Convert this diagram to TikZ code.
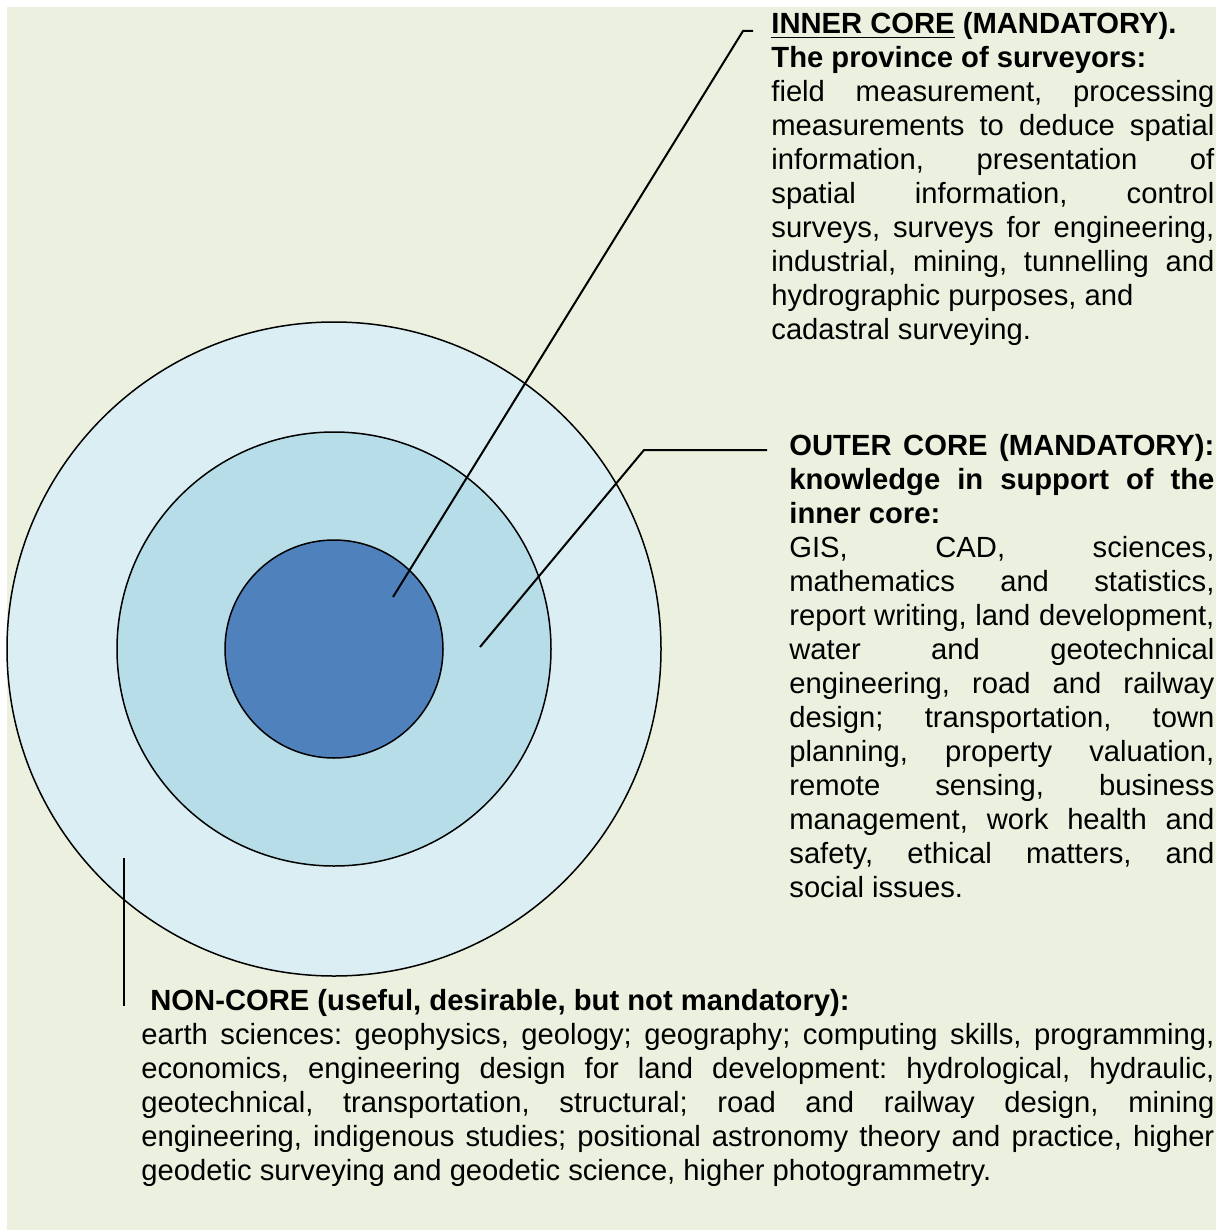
\documentclass[tikz,border=0pt]{standalone}
\usepackage{fontspec}
\setmainfont{Liberation Sans}
\usepackage{xcolor}
\usepackage{tikz}
\definecolor{pagegreen}{HTML}{EBF1DE}
\definecolor{innerblue}{HTML}{4F81BD}
\definecolor{outeraqua}{HTML}{B7DEE8}
\definecolor{noncorepale}{HTML}{DBEEF3}
\tikzset{ring/.style={circle,draw=black,line width=0.75pt,inner sep=0pt},
  leader/.style={line width=1pt},
  block/.style={anchor=base west,inner sep=0pt,align=justify,font=\fontsize{14.6}{17}\selectfont\frenchspacing}}

\begin{document}
\begin{tikzpicture}[x=0.5pt,y=-0.5pt]
	\fill[white] (0,0) rectangle (1228,1230);
	\useasboundingbox (0,0) rectangle (1228,1230);
	\fill[pagegreen] (7,7) rectangle (1216,1230);
	\node[ring,fill=noncorepale,minimum size=327pt] (noncorering) at (334,649) {};
	\node[ring,fill=outeraqua,minimum size=217pt] (outerring) at (334,649) {};
	\node[ring,fill=innerblue,minimum size=109pt] (innerring) at (334,649) {};
	\node[block,text width=221.5pt] (innerlabel) at (771,34)
		{\textbf{\underline{INNER CORE} (MANDATORY).}\par
		\textbf{The province of surveyors:}\par
		field measurement, processing\linebreak
		measurements to deduce spatial\linebreak
		information, presentation of\linebreak
		spatial information, control\linebreak
		surveys, surveys for engineering,\linebreak
		industrial, mining, tunnelling and\linebreak
		hydrographic purposes, and\par
		cadastral surveying.};
	\node[block,text width=212.5pt] (outerlabel) at (789,455)
		{\textbf{OUTER CORE (MANDATORY):\linebreak
		knowledge in support of the\linebreak
		inner core:}\par
		GIS, CAD, sciences,\linebreak
		mathematics and statistics,\linebreak
		report writing, land development,\linebreak
		water and geotechnical\linebreak
		engineering, road and railway\linebreak
		design; transportation, town\linebreak
		planning, property valuation,\linebreak
		remote sensing, business\linebreak
		management, work health and\linebreak
		safety, ethical matters, and\linebreak
		social issues.};
	\node[block,text width=536.5pt] (noncorelabel) at (141,1010)
		{\hspace*{4.5pt}\textbf{NON-CORE (useful, desirable, but not mandatory):}\par
		earth sciences: geophysics, geology; geography; computing skills, programming,\linebreak
		economics, engineering design for land development: hydrological, hydraulic,\linebreak
		geotechnical, transportation, structural; road and railway design, mining\linebreak
		engineering, indigenous studies; positional astronomy theory and practice, higher\linebreak
		geodetic surveying and geodetic science, higher photogrammetry.};
	\coordinate (innertip) at (393,597);
	\coordinate (innerbend) at (743,31);
	\coordinate (innerend) at (753,31);
	\coordinate (outertip) at (480,647);
	\coordinate (outerbend) at (644,450);
	\coordinate (outerend) at (767,450);
	\coordinate (noncoretop) at (124,858);
	\coordinate (noncoreend) at (124,1006);
	\draw[leader] (innertip) -- (innerbend) -- (innerend);
	\draw[leader] (outertip) -- (outerbend) -- (outerend);
	\draw[leader] (noncoretop) -- (noncoreend);
\end{tikzpicture}
\end{document}
